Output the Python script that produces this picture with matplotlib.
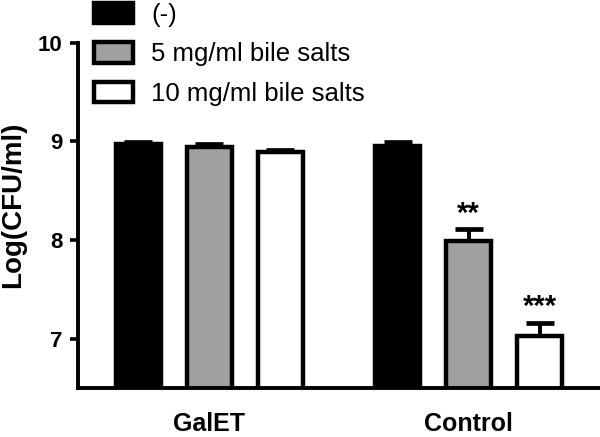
import numpy as np
import matplotlib.pyplot as plt

plt.rcParams['font.family'] = ['Liberation Sans', 'DejaVu Sans']

groups = ["GalET", "Control"]
series = ["(-)", "5 mg/ml bile salts", "10 mg/ml bile salts"]
means = [[8.97, 8.95],
         [8.94, 7.99],
         [8.89, 7.03]]
errs = [[0.02, 0.04],
        [0.03, 0.12],
        [0.02, 0.13]]
stars = [["", ""],
         ["", "**"],
         ["", "***"]]
colors = ["black", "#a0a0a0", "white"]

fig = plt.figure(figsize=(6, 4.37), dpi=100)
ax = fig.add_axes([0.13, 0.112, 0.87, 0.79])

group_x = np.array([0, 3.65])
width = 0.64
for i in range(3):
    x = group_x + (i - 1)
    ax.bar(x, means[i], width, bottom=0, color=colors[i], edgecolor='black',
           linewidth=3.2, label=series[i], zorder=2)
    ax.errorbar(x, means[i], yerr=[np.zeros(2), errs[i]], fmt='none', ecolor='black',
                elinewidth=2.8, capsize=10, capthick=3.4, zorder=1)
    for xi, m, e, s in zip(x, means[i], errs[i], stars[i]):
        if s:
            ax.annotate(s, (xi, m + e), xytext=(0, 5.5), textcoords='offset points',
                        ha='center', va='baseline', fontsize=21, fontweight='bold')

ax.set_ylim(6.5, 10)
ax.set_xlim(-1.85, 5.5)
ax.set_yticks([7, 8, 9, 10])
ax.set_xticks(group_x)
ax.set_xticklabels(groups, fontsize=18, fontweight='bold')
ax.tick_params(axis='x', length=0, pad=17)
ax.tick_params(axis='y', width=2.6, length=6, labelsize=16, pad=5)
for lbl in ax.get_yticklabels():
    lbl.set_fontweight('bold')
ax.set_ylabel("Log(CFU/ml)", fontsize=20, fontweight='bold')
ax.yaxis.set_label_coords(-0.1, 0.53)
ax.spines['top'].set_visible(False)
ax.spines['right'].set_visible(False)
ax.spines['left'].set_linewidth(2.8)
ax.spines['bottom'].set_linewidth(2.8)

fig.legend(loc='upper left', bbox_to_anchor=(91 / 600, 1.0), frameon=False, fontsize=18.5,
           borderpad=0.1, borderaxespad=0, handlelength=1.55, handleheight=0.85,
           labelspacing=0.6, handletextpad=0.7)

fig.savefig('out.png', dpi=100)
